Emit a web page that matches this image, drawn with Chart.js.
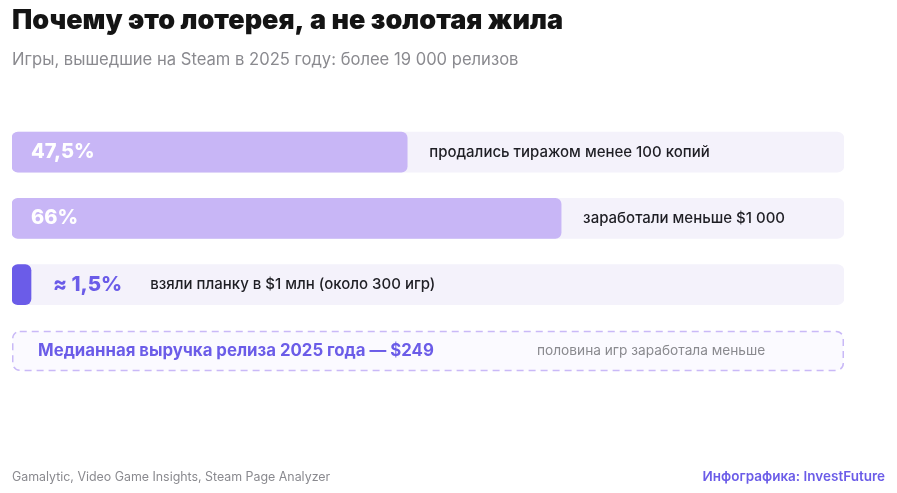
<!DOCTYPE html>
<html lang="ru">
<head>
  <meta charset="UTF-8">
  <title>Почему это лотерея, а не золотая жила</title>
  <script src="https://cdn.jsdelivr.net/npm/chart.js"></script>
  <style>
    html, body {
      margin: 0;
      padding: 0;
      background: #ffffff;
    }
    .wrap {
      width: 897px;
      height: 493px;
      position: relative;
    }
  </style>
</head>
<body>
  <div class="wrap">
    <canvas id="graphique" width="897" height="493"></canvas>
  </div>

  <script>
    // données
    const categories = [
      "продались тиражом менее 100 копий",
      "заработали меньше $1 000",
      "взяли планку в $1 млн (около 300 игр)",
      "Медианная выручка релиза 2025 года — $249"
    ];
    const shares = [47.5, 66, 1.5, null];
    const valueLabels = ["47,5%", "66%", "≈ 1,5%", ""];
    const trackValues = [100, 100, 100, null];
    const medianNote = "половина игр заработала меньше";

    const title = "Почему это лотерея, а не золотая жила";
    const subtitle = "Игры, вышедшие на Steam в 2025 году: более 19 000 релизов";
    const sourceText = "Gamalytic, Video Game Insights, Steam Page Analyzer";
    const creditText = "Инфографика: InvestFuture";

    const FONT = "Inter, 'Noto Sans', sans-serif";
    const light = "#c8b6f6";
    const dark = "#6b5ce8";
    const barColors = [light, light, dark, light];

    const textPlugin = {
      id: "textes",
      beforeDatasetsDraw(chart) {
        const { ctx, scales: { x, y } } = chart;
        // cadre pointillé de la médiane
        const yc = y.getPixelForValue(3);
        const x0 = x.getPixelForValue(0);
        const x1 = x.getPixelForValue(100);
        ctx.save();
        ctx.beginPath();
        ctx.roundRect(x0 + 0.75, yc - 19.5, x1 - x0 - 1.5, 39, 7);
        ctx.fillStyle = "#fbfaff";
        ctx.fill();
        ctx.setLineDash([7, 5]);
        ctx.lineWidth = 1.5;
        ctx.strokeStyle = "#c9b9f7";
        ctx.stroke();
        ctx.restore();
      },
      afterDatasetsDraw(chart) {
        const { ctx, scales: { x, y } } = chart;
        const meta = chart.getDatasetMeta(0);
        ctx.save();
        ctx.textBaseline = "middle";

        // titre et sous-titre
        ctx.textAlign = "left";
        ctx.fillStyle = "#141414";
        ctx.font = "900 27px " + FONT;
        ctx.fillText(title, 12, 21);
        ctx.fillStyle = "#8a8a8f";
        ctx.font = "400 16.6px " + FONT;
        ctx.fillText(subtitle, 12, 60);

        for (let i = 0; i < 3; i++) {
          const bar = meta.data[i];
          const yc = bar.y;
          if (i < 2) {
            ctx.fillStyle = "#ffffff";
            ctx.font = "800 20px " + FONT;
            ctx.fillText(valueLabels[i], x.getPixelForValue(0) + 19, yc);
            ctx.fillStyle = "#1e1e24";
            ctx.font = "500 15px " + FONT;
            ctx.fillText(categories[i], bar.x + 22, yc);
          } else {
            ctx.fillStyle = dark;
            ctx.font = "800 20.5px " + FONT;
            const vx = bar.x + 22;
            ctx.fillText(valueLabels[i], vx, yc);
            const w = ctx.measureText(valueLabels[i]).width;
            ctx.fillStyle = "#1e1e24";
            ctx.font = "500 15px " + FONT;
            ctx.fillText(categories[i], vx + w + 28, yc);
          }
        }

        // ligne médiane
        const ym = y.getPixelForValue(3);
        ctx.fillStyle = dark;
        ctx.font = "700 16.8px " + FONT;
        ctx.fillText(categories[3], x.getPixelForValue(0) + 26, ym);
        ctx.fillStyle = "#8a8a8f";
        ctx.font = "400 13.7px " + FONT;
        ctx.fillText(medianNote, x.getPixelForValue(63.1), ym);

        // pied de page
        ctx.fillStyle = "#8a8a8f";
        ctx.font = "400 12.4px " + FONT;
        ctx.fillText(sourceText, 12, 477);
        ctx.textAlign = "right";
        ctx.fillStyle = dark;
        ctx.font = "600 13.5px " + FONT;
        ctx.fillText(creditText, 885, 477);
        ctx.restore();
      }
    };

    const ctx = document.getElementById("graphique").getContext("2d");
    new Chart(ctx, {
      type: "bar",
      data: {
        labels: categories,
        datasets: [
          {
            data: shares,
            backgroundColor: barColors,
            borderRadius: 6,
            borderSkipped: false,
            barThickness: 40,
            minBarLength: 19,
            grouped: false,
            order: 0
          },
          {
            data: trackValues,
            backgroundColor: "#f4f2fb",
            borderRadius: 7,
            borderSkipped: false,
            barThickness: 40,
            grouped: false,
            order: 1
          }
        ]
      },
      options: {
        indexAxis: "y",
        responsive: false,
        animation: false,
        layout: { padding: { left: 12, right: 53, top: 119, bottom: 109 } },
        plugins: {
          legend: { display: false },
          tooltip: { enabled: false },
          title: { display: false }
        },
        scales: {
          x: { display: false, min: 0, max: 100 },
          y: { display: false }
        }
      },
      plugins: [textPlugin]
    });
  </script>
</body>
</html>
